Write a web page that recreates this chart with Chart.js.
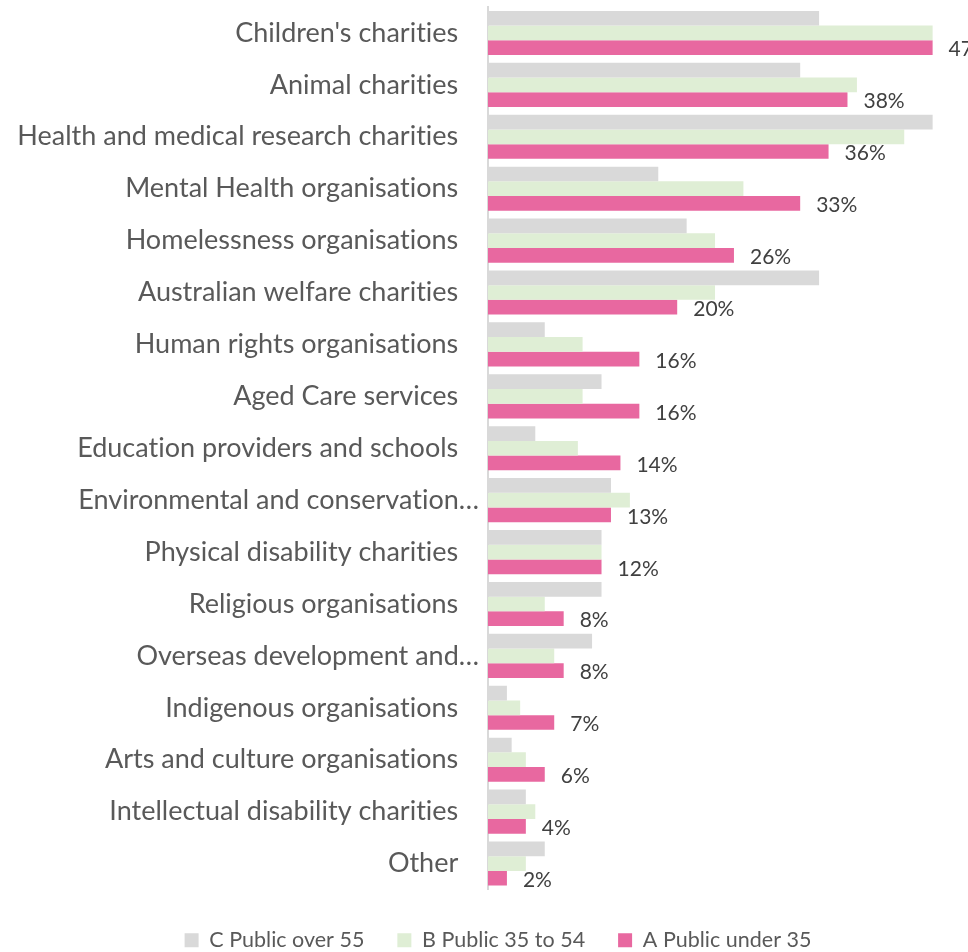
<!DOCTYPE html>
<html>
<head>
<meta charset="utf-8">
<script src="https://cdn.jsdelivr.net/npm/chart.js@4.4.0/dist/chart.umd.min.js"></script>
<style>
  html, body { margin: 0; padding: 0; background: #fff; overflow: hidden; }
  #wrap { width: 968px; height: 952px; }
</style>
</head>
<body>
<div id="wrap"><canvas id="charityChart"></canvas></div>
<script>
// Charity types, top to bottom
const categories = [
    "Children's charities",
    "Animal charities",
    "Health and medical research charities",
    "Mental Health organisations",
    "Homelessness organisations",
    "Australian welfare charities",
    "Human rights organisations",
    "Aged Care services",
    "Education providers and schools",
    "Environmental and conservation…",
    "Physical disability charities",
    "Religious organisations",
    "Overseas development and…",
    "Indigenous organisations",
    "Arts and culture organisations",
    "Intellectual disability charities",
    "Other"
];

// Percent of each group (%)
const publicOver55 = [35, 33, 47, 18, 21, 35, 6, 12, 5, 13, 12, 12, 11, 2, 2.5, 4, 6];
const public35to54 = [47, 39, 44, 27, 24, 24, 10, 10, 9.5, 15, 12, 6, 7, 3.4, 4, 5, 4];
const publicUnder35 = [47, 38, 36, 33, 26, 20, 16, 16, 14, 13, 12, 8, 8, 7, 6, 4, 2];

const seriesLabels = ['C Public over 55', 'B Public 35 to 54', 'A Public under 35'];
const seriesColors = ['#D9D9D9', '#DFEED5', '#E868A0'];

const axisMax = 50;

// plain text, no ligatures
const plainText = {
    id: 'plainText',
    beforeDraw(chart) {
        chart.ctx.textRendering = 'optimizeSpeed';
    }
};

// nudge the legend row to the right
const legendShift = {
    id: 'legendShift',
    afterLayout(chart) {
        chart.legend.left += 29;
    }
};

// Percent labels beside the under-35 bars
const barValueLabels = {
    id: 'barValueLabels',
    afterDatasetsDraw(chart) {
        const ctx = chart.ctx;
        const meta = chart.getDatasetMeta(2);
        ctx.save();
        ctx.font = '21px Lato';
        ctx.fillStyle = '#404040';
        ctx.textAlign = 'left';
        ctx.textBaseline = 'middle';
        meta.data.forEach((bar, i) => {
            ctx.fillText(publicUnder35[i] + '%', bar.x + 16, bar.y + 2);
        });
        ctx.restore();
    }
};

const datasets = [publicOver55, public35to54, publicUnder35].map((values, i) => ({
    label: seriesLabels[i],
    data: values,
    backgroundColor: seriesColors[i],
    borderWidth: 0,
    categoryPercentage: 0.85,
    barPercentage: 1.0
}));

const ctx = document.getElementById('charityChart').getContext('2d');
new Chart(ctx, {
    type: 'bar',
    data: {
        labels: categories,
        datasets: datasets
    },
    plugins: [plainText, legendShift, barValueLabels],
    options: {
        indexAxis: 'y',
        responsive: true,
        maintainAspectRatio: false,
        animation: false,
        devicePixelRatio: 1,
        layout: {
            padding: { left: 6, right: 7, top: 7, bottom: -9 }
        },
        scales: {
            x: {
                display: true,
                min: 0,
                max: axisMax,
                grid: { display: false },
                border: { display: false },
                ticks: { display: false },
                afterFit(scale) {
                    // small gap above the legend
                    scale.height = 7;
                }
            },
            y: {
                grid: { display: false, drawTicks: false },
                border: { display: true, color: '#D9D9D9', width: 2 },
                ticks: {
                    color: '#595959',
                    font: { family: 'Lato', size: 27 },
                    padding: 9,
                    autoSkip: false,
                    callback: function(value) {
                        const text = categories[value];
                        // shortened names sit closer to the axis
                        return text.endsWith('…') ? text : text + '   ';
                    }
                },
                afterFit(scale) {
                    scale.width = 482;
                    scale.paddingTop = 0;
                    scale.paddingBottom = 0;
                }
            }
        },
        plugins: {
            legend: {
                position: 'bottom',
                labels: {
                    color: '#595959',
                    font: { family: 'Lato', size: 21.5 },
                    boxWidth: 14,
                    boxHeight: 14,
                    padding: 33
                }
            },
            tooltip: { enabled: false }
        }
    }
});
</script>
</body>
</html>
